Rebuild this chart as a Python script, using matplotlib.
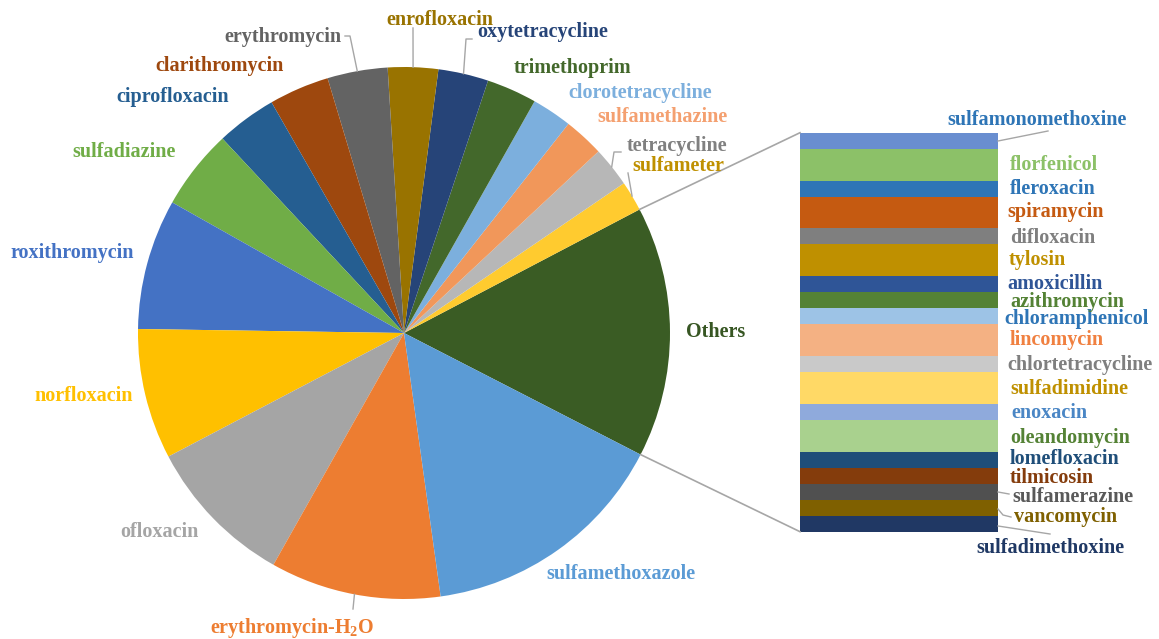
import numpy as np
import matplotlib
matplotlib.use('Agg')
import matplotlib.pyplot as plt

#
# Pie-of-bar chart: antibiotic detection counts, small ones grouped in "Others"
#

plt.rcParams['font.family'] = 'Liberation Serif'
plt.rcParams['font.weight'] = 'bold'
plt.rcParams['mathtext.fontset'] = 'custom'
plt.rcParams['mathtext.rm'] = 'Liberation Serif:bold'
plt.rcParams['mathtext.it'] = 'Liberation Serif:bold'
plt.rcParams['mathtext.bf'] = 'Liberation Serif:bold'

# Pie slices, counter-clockwise starting with Others
pie_names = ['Others', 'sulfameter', 'tetracycline', 'sulfamethazine', 'clorotetracycline',
             'trimethoprim', 'oxytetracycline', 'enrofloxacin', 'erythromycin', 'clarithromycin',
             'ciprofloxacin', 'sulfadiazine', 'roxithromycin', 'norfloxacin', 'ofloxacin',
             'erythromycin-H$_2$O', 'sulfamethoxazole']
pie_values = [25, 3, 4, 4, 4, 5, 5, 5, 6, 6, 6, 8, 13, 13, 15, 17, 25]
pie_colors = ['#3A5C24', '#FFCB2F', '#B7B7B7', '#F1975A', '#7CAFDD', '#43682B', '#264478',
              '#997300', '#636363', '#9E480E', '#255E91', '#70AD47', '#4472C4', '#FFC000',
              '#A5A5A5', '#ED7D31', '#5B9BD5']
pie_label_colors = ['#375623', '#BF9000', '#808080', '#F4A070', '#7CAFDD', '#43682B', '#264478',
                    '#997300', '#636363', '#9E480E', '#255E91', '#70AD47', '#4472C4', '#FFC000',
                    '#A5A5A5', '#ED7D31', '#5B9BD5']

# Bar of "Others", from bottom to top
bar_names = ['sulfadimethoxine', 'vancomycin', 'sulfamerazine', 'tilmicosin', 'lomefloxacin',
             'oleandomycin', 'enoxacin', 'sulfadimidine', 'chlortetracycline', 'lincomycin',
             'chloramphenicol', 'azithromycin', 'amoxicillin', 'tylosin', 'difloxacin',
             'spiramycin', 'fleroxacin', 'florfenicol', 'sulfamonomethoxine']
bar_values = [1, 1, 1, 1, 1, 2, 1, 2, 1, 2, 1, 1, 1, 2, 1, 2, 1, 2, 1]
bar_colors = ['#203864', '#7F6000', '#505050', '#843C0C', '#1F4E79', '#A9D18E', '#8FAADC',
              '#FFD966', '#C9C9C9', '#F4B183', '#9DC3E6', '#548235', '#2F5597', '#BF9000',
              '#7F7F7F', '#C55A11', '#2E75B6', '#8CC168', '#698ED0']
bar_label_colors = ['#1F3864', '#7F6000', '#595959', '#843C0C', '#1F4E79', '#548235', '#4A86C5',
                    '#BF9000', '#7F7F7F', '#F08040', '#2E75B6', '#548235', '#2F5597', '#BF9000',
                    '#7F7F7F', '#C55A11', '#2E75B6', '#8CC168', '#2E75B6']

W, H = 1159, 639
fig = plt.figure(figsize=(W / 100, H / 100), dpi=100)
ax = fig.add_axes([0, 0, 1, 1])

# work in image pixels, y flipped
def P(x, y):
    return (x, H - y)

cx, cy = P(404, 333)
R = 266
start = -27.2
ax.pie(pie_values, colors=pie_colors, startangle=start, counterclock=True,
       center=(cx, cy), radius=R, wedgeprops=dict(linewidth=0))

ax.set_xlim(0, W)
ax.set_ylim(0, H)
ax.set_aspect('equal')
ax.axis('off')

# pie labels: (x, y) in image px
pie_label_pos = [(716, 332), (678, 166), (677, 146), (662, 117), (640, 93), (573, 68),
                 (543, 32), (440, 20), (283, 37), (220, 66), (173, 97), (124, 152),
                 (72, 253), (84, 396), (159, 532), (292, 628), (621, 574)]
for name, col, (x, y) in zip(pie_names, pie_label_colors, pie_label_pos):
    ax.text(*P(x, y), name, color=col, fontsize=14.5, ha='center', va='center')

# leader lines on the pie
gray = '#A6A6A6'
total = sum(pie_values)
mids = {}
acc = start
for name, v in zip(pie_names, pie_values):
    a = acc + 360 * v / total
    mids[name] = np.deg2rad((acc + a) / 2)
    acc = a

def edge(name):
    t = mids[name]
    return cx + R * np.cos(t), cy + R * np.sin(t)

pie_leaders = {'erythromycin': [(350, 36), (345, 36)],
               'enrofloxacin': [(413, 28)],
               'oxytetracycline': [(466, 39), (472, 39)],
               'tetracycline': [(614, 152), (621, 152)],
               'sulfameter': [(628, 173)],
               'erythromycin-H$_2$O': [(353, 609)]}
for name, pts in pie_leaders.items():
    x0, y0 = edge(name)
    xs = [x0] + [p[0] for p in pts]
    ys = [y0] + [H - p[1] for p in pts]
    ax.plot(xs, ys, color=gray, lw=1)

# bar of Others
bar_x, bar_w = 899, 198
bar_bottom = H - 531.7
unit = 399 / sum(bar_values)
heights = np.array(bar_values) * unit
bottoms = bar_bottom + np.concatenate([[0], np.cumsum(heights)[:-1]])
ax.bar(bar_x, heights, width=bar_w, bottom=bottoms, color=bar_colors, linewidth=0)

# connector lines between the Others wedge and the bar
t1 = np.deg2rad(start)
t2 = np.deg2rad(start + 360 * pie_values[0] / total)
ax.plot([cx + R * np.cos(t2), bar_x - bar_w / 2], [cy + R * np.sin(t2), bar_bottom + heights.sum()],
        color=gray, lw=1.2)
ax.plot([cx + R * np.cos(t1), bar_x - bar_w / 2], [cy + R * np.sin(t1), bar_bottom],
        color=gray, lw=1.2)

# bar labels
bar_label_pos = [(1050, 548), (1066, 517), (1073, 497), (1052, 478), (1064, 459), (1070, 438),
                 (1049, 413), (1069, 389), (1080, 365), (1057, 340), (1077, 319), (1067, 302),
                 (1055, 284), (1037, 260), (1053, 238), (1056, 212), (1053, 189), (1054, 165),
                 (1037, 120)]
for name, col, (x, y) in zip(bar_names, bar_label_colors, bar_label_pos):
    ax.text(*P(x, y), name, color=col, fontsize=14.5, ha='center', va='center')

bar_leaders = [[(998, 141), (1048, 131)],
               [(998, 492), (1009, 494)],
               [(998, 509), (1003, 515), (1011, 517)],
               [(998, 526), (1050, 534)]]
for pts in bar_leaders:
    ax.plot([p[0] for p in pts], [H - p[1] for p in pts], color=gray, lw=1)

plt.savefig('out.png', dpi=100)
